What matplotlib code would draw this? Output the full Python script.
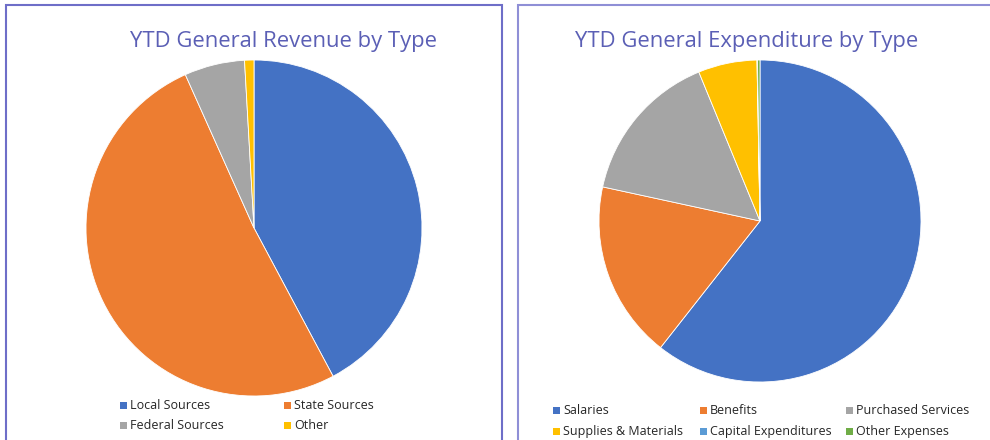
import matplotlib
matplotlib.use("Agg")
import matplotlib.pyplot as plt
from matplotlib.patches import Rectangle

plt.rcParams['font.family'] = ['Open Sans', 'DejaVu Sans']

# Data
rev_labels = ["Local Sources", "State Sources", "Federal Sources", "Other"]
rev_values = [42.2, 51.1, 5.8, 0.9]
rev_colors = ["#4472C4", "#ED7D31", "#A5A5A5", "#FFC000"]

exp_labels = ["Salaries", "Benefits", "Purchased Services",
              "Supplies & Materials", "Capital Expenditures", "Other Expenses"]
exp_values = [60.6, 17.8, 15.4, 5.9, 0.05, 0.25]
exp_colors = ["#4472C4", "#ED7D31", "#A5A5A5", "#FFC000", "#5B9BD5", "#70AD47"]

W, H = 990, 440
fig = plt.figure(figsize=(W / 100, H / 100), dpi=100)
fig.patch.set_facecolor("white")


def fx(px):
    return px / W


def fy(py):
    return 1 - py / H


# panel borders
fig.patches.append(Rectangle((fx(6), fy(450)), fx(502) - fx(6), fy(5.5) - fy(450),
                             transform=fig.transFigure, fill=False,
                             edgecolor="#6E6EC8", linewidth=1.5))
fig.patches.append(Rectangle((fx(517.5), fy(450)), fx(1000) - fx(517.5), fy(5.5) - fy(450),
                             transform=fig.transFigure, fill=False,
                             edgecolor="#8F8FD6", linewidth=1.5))


def draw_pie(cx, cy, r, values, colors):
    ax = fig.add_axes([fx(cx - r), fy(cy + r), (2 * r) / W, (2 * r) / H])
    ax.pie(values, colors=colors, startangle=90, counterclock=False,
           radius=1, wedgeprops=dict(linewidth=0.6, edgecolor="white"))
    ax.set_xlim(-1, 1)
    ax.set_ylim(-1, 1)
    ax.set_aspect("auto")
    ax.axis("off")
    return ax


draw_pie(254, 228, 168, rev_values, rev_colors)
draw_pie(760, 221, 161, exp_values, exp_colors)

title_color = "#5B5FB5"
fig.text(fx(283.5), fy(41), "YTD General Revenue by Type", ha="center", va="center",
         fontsize=15.8, color=title_color)
fig.text(fx(746.5), fy(41), "YTD General Expenditure by Type", ha="center", va="center",
         fontsize=15.8, color=title_color)


def legend(labels, colors, col_x, row_y, ncol):
    for i, (lab, col) in enumerate(zip(labels, colors)):
        x = col_x[i % ncol]
        y = row_y[i // ncol]
        s = 7
        fig.patches.append(Rectangle((fx(x), fy(y + s / 2)), s / W, s / H,
                                     transform=fig.transFigure, facecolor=col,
                                     edgecolor="none"))
        fig.text(fx(x + 10), fy(y), lab, ha="left", va="center",
                 fontsize=9, color="#262626")


legend(rev_labels, rev_colors, [120, 284], [405, 425], 2)
legend(exp_labels, exp_colors, [553, 700, 846], [410, 431], 3)

fig.savefig("out.png", dpi=100, facecolor="white")
